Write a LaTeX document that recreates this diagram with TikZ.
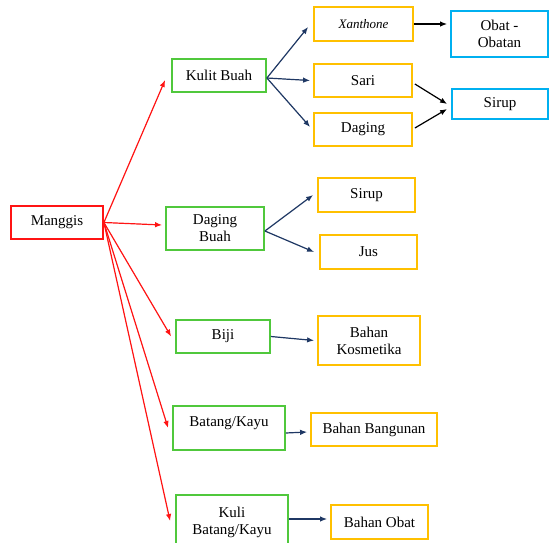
\documentclass[tikz,border=0pt]{standalone}
\usepackage{fontspec}
\setmainfont{Liberation Serif}
\usetikzlibrary{arrows.meta}
\definecolor{cred}{RGB}{255,20,20}
\definecolor{cgreen}{RGB}{80,200,60}
\definecolor{cyellow}{RGB}{255,192,0}
\definecolor{cblue}{RGB}{0,176,240}
\definecolor{cnavy}{RGB}{31,56,100}
\tikzset{
  box/.style={draw, line width=1.8pt, rectangle, inner sep=1pt, align=center,
    font=\fontsize{15}{17}\selectfont},
  redbox/.style={box, draw=cred},
  greenbox/.style={box, draw=cgreen},
  yellowbox/.style={box, draw=cyellow},
  bluebox/.style={box, draw=cblue},
  conn/.style={line width=1.2pt, -{Latex[length=7pt,width=5.5pt]}},
  redarr/.style={conn, draw=cred, fill=cred},
  navyarr/.style={conn, draw=cnavy, fill=cnavy},
  blackarr/.style={conn, draw=black, fill=black},
}
\begin{document}
\begin{tikzpicture}[x=1pt,y=-1pt]
\useasboundingbox (0,0) rectangle (550,542);
% level 0
\node[redbox, minimum width=92pt, minimum height=33pt] (mg) at (57,222.5) {Manggis};
% level 1
\node[greenbox, minimum width=94pt, minimum height=33pt] (kb) at (219,75.5) {Kulit Buah};
\node[greenbox, minimum width=98pt, minimum height=43pt] (db) at (215,228.5) {Daging\\Buah};
\node[greenbox, minimum width=94pt, minimum height=33pt] (bj) at (223,336.5) {Biji};
\node[greenbox, minimum width=112pt, minimum height=44pt, text depth=12pt] (bk) at (229,428) {Batang/Kayu};
\node[greenbox, minimum width=112pt, minimum height=60pt, text depth=8pt] (kbk) at (232,525) {Kuli\\Batang/Kayu};
% level 2
\node[yellowbox, minimum width=99pt, minimum height=34pt, font=\fontsize{13}{15}\selectfont\itshape] (xa) at (363.5,24) {Xanthone};
\node[yellowbox, minimum width=98pt, minimum height=33pt] (sa) at (363,80.5) {Sari};
\node[yellowbox, minimum width=98pt, minimum height=33pt] (dg) at (363,129.5) {Daging};
\node[yellowbox, minimum width=97pt, minimum height=34pt] (sy) at (366.5,195) {Sirup};
\node[yellowbox, minimum width=97pt, minimum height=34pt] (js) at (368.5,252) {Jus};
\node[yellowbox, minimum width=102pt, minimum height=49pt] (bko) at (369,340.5) {Bahan\\Kosmetika};
\node[yellowbox, minimum width=126pt, minimum height=33pt] (bba) at (374,429.5) {Bahan Bangunan};
\node[yellowbox, minimum width=97pt, minimum height=34pt] (bo) at (379.5,522) {Bahan Obat};
% level 3
\node[bluebox, minimum width=97pt, minimum height=46pt] (ob) at (499.5,34) {Obat -\\Obatan};
\node[bluebox, minimum width=96pt, minimum height=30pt] (si) at (500,104) {Sirup};
% red connectors
\draw[redarr] (mg.east) -- ([xshift=-6pt,yshift=-4.5pt]kb.west);
\draw[redarr] (mg.east) -- ([xshift=-3pt,yshift=3.5pt]db.west);
\draw[redarr] (mg.east) -- ([xshift=-4pt]bj.west);
\draw[redarr] (mg.east) -- ([xshift=-4pt]bk.west);
\draw[redarr] (mg.east) -- ([xshift=-5pt,yshift=4pt]kbk.west);
% navy connectors
\draw[navyarr] ([yshift=-2.5pt]kb.east) -- ([xshift=-5pt,yshift=-3pt]xa.west);
\draw[navyarr] ([yshift=-2.5pt]kb.east) -- ([xshift=-3pt]sa.west);
\draw[navyarr] ([yshift=-2.5pt]kb.east) -- ([xshift=-3pt,yshift=2.5pt]dg.west);
\draw[navyarr] ([yshift=-2.5pt]db.east) -- ([xshift=-4pt]sy.west);
\draw[navyarr] ([yshift=-2.5pt]db.east) -- ([xshift=-5pt]js.west);
\draw[navyarr] (bj.east) -- ([xshift=-3pt]bko.west);
\draw[navyarr] ([yshift=-5pt]bk.east) -- ([xshift=-3pt,yshift=-2.5pt]bba.west);
\draw[navyarr] ([yshift=6pt]kbk.east) -- ([xshift=-3pt,yshift=3pt]bo.west);
% black connectors
\draw[blackarr] (xa.east) -- ([xshift=-3pt,yshift=10pt]ob.west);
\draw[blackarr] ([xshift=2pt,yshift=-3.5pt]sa.east) -- ([xshift=-4pt]si.west);
\draw[blackarr] ([xshift=2pt,yshift=1.5pt]dg.east) -- ([xshift=-4pt,yshift=-5pt]si.west);
\end{tikzpicture}
\end{document}
